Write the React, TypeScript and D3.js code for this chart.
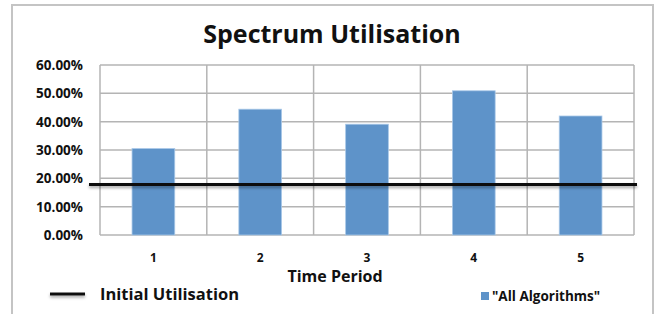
import React from "react"
import * as d3 from "d3"

const periods = ["1", "2", "3", "4", "5"]
const allAlgorithms = [0.305, 0.444, 0.391, 0.509, 0.42]
const initialUtilisation = 0.178
const yTicks = [0, 0.1, 0.2, 0.3, 0.4, 0.5, 0.6]

export default function App() {
  const width = 659
  const height = 314
  const left = 100
  const right = 634
  const top = 65
  const bottom = 235
  const font = "'Open Sans', 'DejaVu Sans', sans-serif"

  const x = d3.scaleBand().domain(periods).range([left, right]).paddingInner(0).paddingOuter(0)
  const y = d3.scaleLinear().domain([0, 0.6]).range([bottom, top])
  const barW = x.bandwidth() * 0.4
  const fmt = d3.format(".2%")

  return (
    <svg width={width} height={height} style={{ position: "absolute", left: 0, top: 0, background: "#fff" }}>
      <defs>
        <filter id="shadow" filterUnits="userSpaceOnUse" x="0" y="0" width={width} height={height}>
          <feDropShadow dx="0" dy="2" stdDeviation="1.5" floodColor="#000" floodOpacity="0.35" />
        </filter>
      </defs>
      <rect x={12} y={5} width={641} height={330} fill="#fff" stroke="#c4c4c4" strokeWidth={2} />
      <text x={332} y={43} textAnchor="middle" fontFamily={font} fontWeight="bold" fontSize={25} fill="#111">
        Spectrum Utilisation
      </text>

      {/* grid */}
      {yTicks.map((t) => (
        <line key={t} x1={left} x2={right} y1={y(t)} y2={y(t)} stroke="#b4b4b4" strokeWidth={1.5} />
      ))}
      {periods.map((p) => (
        <line key={p} x1={x(p)!} x2={x(p)!} y1={top} y2={bottom} stroke="#b4b4b4" strokeWidth={1.5} />
      ))}
      <line x1={right} x2={right} y1={top} y2={bottom} stroke="#b4b4b4" strokeWidth={1.5} />

      {/* bars */}
      {periods.map((p, i) => (
        <rect
          key={p}
          x={x(p)! + (x.bandwidth() - barW) / 2}
          y={y(allAlgorithms[i])}
          width={barW}
          height={bottom - y(allAlgorithms[i])}
          fill="#5e93c9"
          stroke="#a9c8e8"
          strokeWidth={0.8}
        />
      ))}

      {/* initial utilisation line */}
      <line
        x1={89}
        x2={637}
        y1={y(initialUtilisation)}
        y2={y(initialUtilisation)}
        stroke="#111"
        strokeWidth={3}
        filter="url(#shadow)"
      />

      {/* y axis labels */}
      {yTicks.map((t) => (
        <text key={t} x={83} y={y(t) + 5} textAnchor="end" fontFamily={font} fontWeight="bold" fontSize={13.5} fill="#111">
          {fmt(t)}
        </text>
      ))}

      {/* x axis labels */}
      {periods.map((p) => (
        <text key={p} x={x(p)! + x.bandwidth() / 2} y={262} textAnchor="middle" fontFamily={font} fontWeight="bold" fontSize={12} fill="#111">
          {p}
        </text>
      ))}
      <text x={335} y={282} textAnchor="middle" fontFamily={font} fontWeight="bold" fontSize={16} fill="#111">
        Time Period
      </text>

      {/* legend */}
      <line x1={50} x2={85} y1={294} y2={294} stroke="#111" strokeWidth={3} filter="url(#shadow)" />
      <text x={100} y={300} fontFamily={font} fontWeight="bold" fontSize={16.5} fill="#111">
        Initial Utilisation
      </text>
      <rect x={481} y={292} width={8} height={8} fill="#5e93c9" />
      <text x={492} y={301} fontFamily={font} fontWeight="bold" fontSize={13.5} fill="#111">
        "All Algorithms"
      </text>
    </svg>
  )
}
